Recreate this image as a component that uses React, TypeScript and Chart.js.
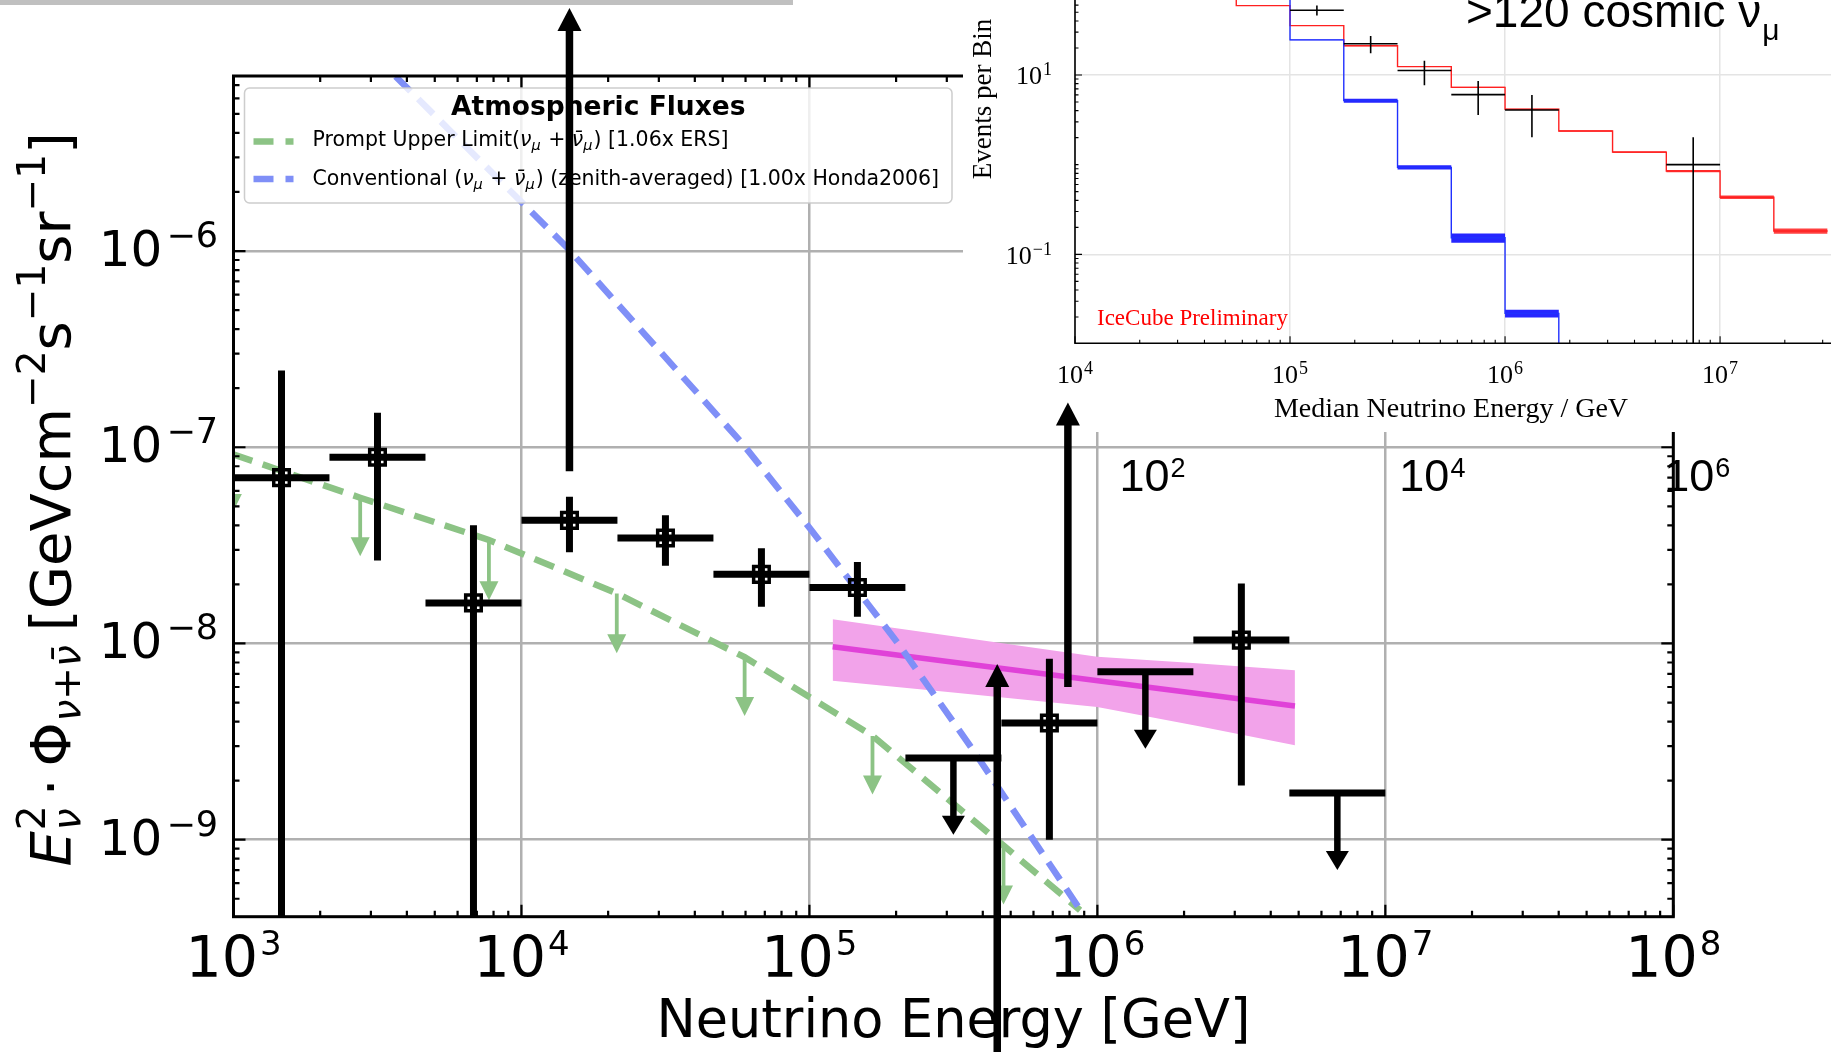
import React, { useEffect, useRef } from 'react';
import { Chart, registerables } from 'chart.js';

Chart.register(...registerables);

const W = 1831;
const H = 1052;

// ================= MAIN CHART DATA (E^2 flux vs neutrino energy) =================
const xTickValues = [1e3, 1e4, 1e5, 1e6, 1e7, 1e8];
const xTickExponents = ['3', '4', '5', '6', '7', '8'];
const yTickValues = [1e-9, 1e-8, 1e-7, 1e-6];
const yTickExponents = ['−9', '−8', '−7', '−6'];

// unfolded flux points (bin edges, centre, value, error-bar ends)
const binLowE = [1000, 2154, 4642, 10000, 21544, 46416, 100000, 464159, 2154435];
const binHighE = [2154, 4642, 10000, 21544, 46416, 100000, 215443, 1000000, 4641589];
const binCenterE = [1468, 3162, 6813, 14678, 31623, 68129, 146780, 681292, 3162278];
const fluxValue = [7.0e-8, 8.9e-8, 1.61e-8, 4.24e-8, 3.45e-8, 2.25e-8, 1.93e-8, 3.93e-9, 1.04e-8];
const fluxUpper = [2.46e-7, 1.5e-7, 4.0e-8, 5.6e-8, 4.5e-8, 3.06e-8, 2.6e-8, 8.35e-9, 2.02e-8];
const fluxLower = [1e-11, 2.65e-8, 1e-11, 2.92e-8, 2.49e-8, 1.54e-8, 1.37e-8, 1.0e-9, 1.89e-9];

// upper limits
const limitLowE = [215443, 1000000, 4641589];
const limitHighE = [464159, 2154435, 10000000];
const limitCenterE = [316228, 1467799, 6812921];
const limitValue = [2.61e-9, 7.18e-9, 1.73e-9];
const limitArrowTip = [1.06e-9, 2.91e-9, 7.0e-10];

// prompt upper limit curve (green) and its arrows
const promptE = [991, 2754, 7709, 21429, 59566, 165577, 472063, 870964];
const promptFlux = [9.23e-8, 5.53e-8, 3.37e-8, 1.8e-8, 8.51e-9, 3.38e-9, 9.33e-10, 4.37e-10];
const promptArrowE = [991, 2754, 7709, 21429, 59566, 165577, 472063];
const promptArrowTop = [9.23e-8, 5.53e-8, 3.37e-8, 1.8e-8, 8.51e-9, 3.38e-9, 9.33e-10];
const promptArrowTip = [4.62e-8, 2.78e-8, 1.66e-8, 8.91e-9, 4.27e-9, 1.7e-9, 4.68e-10];

// conventional atmospheric flux (blue)
const convE = [3656, 14421, 58345, 100000, 203236, 368978, 864968];
const convFlux = [7.76e-6, 1.04e-6, 1.05e-7, 3.89e-8, 1.0e-8, 2.88e-9, 4.47e-10];

// astrophysical fit (magenta) and its band
const fitE = [120400, 4853000];
const fitFlux = [9.62e-9, 4.8e-9];
const bandE = [120400, 315500, 999100, 2208000, 4853000];
const bandTop = [1.327e-8, 1.089e-8, 8.55e-9, 7.93e-9, 7.31e-9];
const bandBottom = [6.46e-9, 5.62e-9, 4.75e-9, 3.81e-9, 3.03e-9];

// big annotation arrows pasted on the figure
const annotArrowE = [14678, 790000, 449000];
const annotArrowBase = [7.55e-8, 6.0e-9, 5e-11];
const annotArrowTip = [1.73e-5, 1.69e-7, 7.85e-9];

// stray axis labels pasted below the inset
const strayLabelE = [1e6, 1e7, 1e8];
const strayLabelExp = ['2', '4', '6'];

// ================= INSET DATA (events per bin) =================
const insetXTicks = [1e4, 1e5, 1e6, 1e7];
const insetXExp = ['4', '5', '6', '7'];
const insetYTicks = [0.1, 10];
const insetYExp = ['−1', '1'];
const histEdges = [31623, 56234, 100000, 177828, 316228, 562341, 1000000, 1778279, 3162278, 5623413, 10000000, 17782794, 31622777];
const redValues = [80, 59.3, 35.5, 21.2, 12.4, 7.28, 4.14, 2.37, 1.38, 0.849, 0.433, 0.182];
const redRelErr = [0.01, 0.01, 0.012, 0.012, 0.012, 0.012, 0.015, 0.02, 0.025, 0.03, 0.045, 0.065];
const blueEdges = [56234, 100000, 177828, 316228, 562341, 1000000, 1778279, 3162278];
const blueValues = [85, 24.6, 5.17, 0.933, 0.153, 0.022, 0.003];
const blueRelErr = [0.01, 0.01, 0.05, 0.055, 0.12, 0.1, 0.1];
const dataCenterE = [133352, 237137, 421697, 749894, 1333521, 7498942];
const dataLowE = [100000, 177828, 316228, 562341, 1000000, 5623413];
const dataHighE = [177828, 316228, 562341, 1000000, 1778279, 10000000];
const dataEvents = [52.6, 22.3, 11.2, 6.03, 4.07, 1.0];
const dataUp = [59.3, 27.2, 14.4, 8.57, 5.98, 2.02];
const dataDown = [45.9, 17.5, 7.7, 3.58, 2.02, 0.001];

// ================= helpers =================
const GREEN = '#8cc385';
const BLUE = '#7f8ff7';
const MAGENTA = '#e042d8';
const BAND = '#f2a3ea';
const SANS = '"DejaVu Sans"';
const SERIF = '"Liberation Serif"';
const ARIAL = '"Liberation Sans"';
const DASH = [21, 11];

type Seg = { t: string; s: number; dy?: number; it?: boolean; b?: boolean; stack?: boolean; gap?: number };

function segFont(g: Seg, fam: string) {
  return `${g.it ? 'italic ' : ''}${g.b ? 'bold ' : ''}${g.s}px ${fam}`;
}

function drawRich(ctx: CanvasRenderingContext2D, segs: Seg[], x: number, y: number, align: string, fam: string, color: string, sx = 1) {
  ctx.save();
  ctx.fillStyle = color;
  ctx.textBaseline = 'alphabetic';
  ctx.textAlign = 'left';
  const adv: number[] = [];
  let total = 0;
  segs.forEach((g) => {
    ctx.font = segFont(g, fam);
    const w = ctx.measureText(g.t).width;
    const a = g.stack ? 0 : w + (g.gap || 0);
    adv.push(a);
    total += a;
  });
  let cx = align === 'left' ? 0 : align === 'center' ? -total / 2 : -total;
  ctx.translate(x, y);
  ctx.scale(sx, 1);
  segs.forEach((g, i) => {
    ctx.font = segFont(g, fam);
    ctx.fillText(g.t, cx, g.dy || 0);
    cx += adv[i];
  });
  ctx.restore();
}

function drawArrow(ctx: CanvasRenderingContext2D, x: number, yBase: number, yTip: number, lw: number, headW: number, headL: number, color: string) {
  const dir = yTip < yBase ? -1 : 1;
  ctx.save();
  ctx.strokeStyle = color;
  ctx.fillStyle = color;
  ctx.lineWidth = lw;
  ctx.lineCap = 'butt';
  ctx.beginPath();
  ctx.moveTo(x, yBase);
  ctx.lineTo(x, yTip - dir * headL * 0.8);
  ctx.stroke();
  ctx.beginPath();
  ctx.moveTo(x, yTip);
  ctx.lineTo(x - headW / 2, yTip - dir * headL);
  ctx.lineTo(x + headW / 2, yTip - dir * headL);
  ctx.closePath();
  ctx.fill();
  ctx.restore();
}

function logMinor(min: number, max: number) {
  const out: number[] = [];
  for (let p = Math.floor(Math.log10(min)); p <= Math.ceil(Math.log10(max)); p++) {
    for (let k = 2; k <= 9; k++) {
      const v = k * Math.pow(10, p);
      if (v > min && v < max) out.push(v);
    }
  }
  return out;
}

function drawTicks(ctx: CanvasRenderingContext2D, chart: any, xMajor: number[], yMajor: number[], sides: string, major: number, minor: number, lw: number, extraYMinor: number[] = []) {
  const a = chart.chartArea;
  const xs = chart.scales.x;
  const ys = chart.scales.y;
  ctx.save();
  ctx.strokeStyle = '#000';
  ctx.lineWidth = lw;
  ctx.beginPath();
  const tx = (v: number, len: number) => {
    const x = xs.getPixelForValue(v);
    if (sides.includes('b')) { ctx.moveTo(x, a.bottom); ctx.lineTo(x, a.bottom - len); }
    if (sides.includes('t')) { ctx.moveTo(x, a.top); ctx.lineTo(x, a.top + len); }
  };
  const ty = (v: number, len: number) => {
    const y = ys.getPixelForValue(v);
    if (sides.includes('l')) { ctx.moveTo(a.left, y); ctx.lineTo(a.left + len, y); }
    if (sides.includes('r')) { ctx.moveTo(a.right, y); ctx.lineTo(a.right - len, y); }
  };
  xMajor.forEach((v) => tx(v, major));
  logMinor(xs.min, xs.max).forEach((v) => tx(v, minor));
  yMajor.forEach((v) => ty(v, major));
  logMinor(ys.min, ys.max).concat(extraYMinor).forEach((v) => ty(v, minor));
  ctx.stroke();
  ctx.restore();
}

function clipArea(ctx: CanvasRenderingContext2D, a: any) {
  ctx.beginPath();
  ctx.rect(a.left, a.top, a.right - a.left, a.bottom - a.top);
  ctx.clip();
}

// ================= MAIN CHART PLUGIN =================
const MARKER_INDEX = 0;
const PROMPT_INDEX = 1;

const mainDecor = {
  id: 'mainDecor',
  beforeDatasetDraw(chart: any, args: any) {
    if (args.index !== MARKER_INDEX) return;
    const ctx: CanvasRenderingContext2D = chart.ctx;
    const xs = chart.scales.x;
    const ys = chart.scales.y;
    ctx.save();
    clipArea(ctx, chart.chartArea);
    ctx.strokeStyle = '#000';
    ctx.lineWidth = 7;
    ctx.lineCap = 'butt';
    binCenterE.forEach((e, i) => {
      const x = xs.getPixelForValue(e);
      const y = ys.getPixelForValue(fluxValue[i]);
      ctx.beginPath();
      ctx.moveTo(xs.getPixelForValue(binLowE[i]), y);
      ctx.lineTo(xs.getPixelForValue(binHighE[i]), y);
      ctx.moveTo(x, ys.getPixelForValue(fluxUpper[i]));
      ctx.lineTo(x, ys.getPixelForValue(fluxLower[i]));
      ctx.stroke();
    });
    limitCenterE.forEach((e, i) => {
      const x = xs.getPixelForValue(e);
      const y = ys.getPixelForValue(limitValue[i]);
      ctx.beginPath();
      ctx.moveTo(xs.getPixelForValue(limitLowE[i]), y);
      ctx.lineTo(xs.getPixelForValue(limitHighE[i]), y);
      ctx.stroke();
      drawArrow(ctx, x, y, ys.getPixelForValue(limitArrowTip[i]), 6.5, 23, 19, '#000');
    });
    ctx.restore();
  },
  afterDatasetDraw(chart: any, args: any) {
    if (args.index !== PROMPT_INDEX) return;
    const ctx: CanvasRenderingContext2D = chart.ctx;
    const xs = chart.scales.x;
    const ys = chart.scales.y;
    ctx.save();
    clipArea(ctx, chart.chartArea);
    promptArrowE.forEach((e, i) => {
      drawArrow(ctx, xs.getPixelForValue(e), ys.getPixelForValue(promptArrowTop[i]), ys.getPixelForValue(promptArrowTip[i]), 3.8, 19, 19, GREEN);
    });
    ctx.restore();
  },
  afterDatasetsDraw(chart: any) {
    const ctx: CanvasRenderingContext2D = chart.ctx;
    const a = chart.chartArea;
    // frame
    ctx.save();
    ctx.strokeStyle = '#000';
    ctx.lineWidth = 3;
    ctx.strokeRect(a.left, a.top, a.right - a.left, a.bottom - a.top);
    ctx.restore();
    drawTicks(ctx, chart, xTickValues, yTickValues, 'lrtb', 12, 6, 2.2);
    // legend
    const lx = a.left + 11;
    const ly = a.top + 12;
    const lw = 707.5;
    const lh = 115;
    ctx.save();
    ctx.beginPath();
    (ctx as any).roundRect(lx, ly, lw, lh, 5);
    ctx.fillStyle = 'rgba(255,255,255,0.8)';
    ctx.fill();
    ctx.strokeStyle = 'rgba(200,200,200,0.9)';
    ctx.lineWidth = 1.5;
    ctx.stroke();
    ctx.restore();
    drawRich(ctx, [{ t: 'Atmospheric Fluxes', s: 26.5, b: true }], lx + lw / 2, ly + 26.5, 'center', SANS, '#000');
    const handle = (y: number, color: string) => {
      ctx.save();
      ctx.strokeStyle = color;
      ctx.lineWidth = 6.5;
      ctx.setLineDash([20, 12]);
      ctx.beginPath();
      ctx.moveTo(lx + 9, y);
      ctx.lineTo(lx + 49, y);
      ctx.stroke();
      ctx.restore();
    };
    handle(ly + 53.4, GREEN);
    handle(ly + 91, BLUE);
    const nuPair: Seg[] = [
      { t: 'ν', s: 20.5, it: true },
      { t: 'μ', s: 14.5, it: true, dy: 4, gap: 1 },
      { t: ' + ', s: 20.5 },
      { t: 'ν̄', s: 20.5, it: true },
      { t: 'μ', s: 14.5, it: true, dy: 4, gap: 1 },
    ];
    drawRich(ctx, [{ t: 'Prompt Upper Limit(', s: 20.5 }, ...nuPair, { t: ') [1.06x ERS]', s: 20.5 }], lx + 68, ly + 58.4, 'left', SANS, '#000');
    drawRich(ctx, [{ t: 'Conventional (', s: 20.5 }, ...nuPair, { t: ') (zenith-averaged) [1.00x Honda2006]', s: 20.5 }], lx + 68, ly + 96.7, 'left', SANS, '#000');
  },
  afterDraw(chart: any) {
    const ctx: CanvasRenderingContext2D = chart.ctx;
    const a = chart.chartArea;
    const xs = chart.scales.x;
    const ys = chart.scales.y;
    xTickValues.forEach((v, i) => {
      drawRich(ctx, [{ t: '10', s: 57, gap: 2 }, { t: xTickExponents[i], s: 34, dy: -22 }], xs.getPixelForValue(v), a.bottom + 60.5, 'center', SANS, '#000');
    });
    yTickValues.forEach((v, i) => {
      drawRich(ctx, [{ t: '10', s: 50, gap: 4 }, { t: yTickExponents[i], s: 35, dy: -19 }], a.left - 15.5, ys.getPixelForValue(v) + 15, 'right', SANS, '#000');
    });
    drawRich(ctx, [{ t: 'Neutrino Energy [GeV]', s: 52.5 }], (a.left + a.right) / 2, a.bottom + 120, 'center', SANS, '#000');
    ctx.save();
    ctx.translate(70, (a.top + a.bottom) / 2 + 3);
    ctx.rotate(-Math.PI / 2);
    const yTitle: Seg[] = [
      { t: 'E', s: 56, it: true, gap: 1 },
      { t: '2', s: 39, dy: -25, stack: true },
      { t: 'ν', s: 39, it: true, dy: 10, gap: 12 },
      { t: '·', s: 56, gap: 12 },
      { t: 'Φ', s: 56, gap: 1 },
      { t: 'ν', s: 39, it: true, dy: 10 },
      { t: '+', s: 39, dy: 10 },
      { t: 'ν̄', s: 39, it: true, dy: 10, gap: 14 },
      { t: '[GeVcm', s: 56 },
      { t: '−2', s: 39, dy: -25 },
      { t: 's', s: 56 },
      { t: '−1', s: 39, dy: -25 },
      { t: 'sr', s: 56 },
      { t: '−1', s: 39, dy: -25 },
      { t: ']', s: 56 },
    ];
    drawRich(ctx, yTitle, 0, 0, 'center', SANS, '#000');
    ctx.restore();
    // stray labels pasted below the inset
    const strayDx = [22, 14, -9];
    strayLabelE.forEach((e, i) => {
      drawRich(ctx, [{ t: '10', s: 45, gap: 1 }, { t: strayLabelExp[i], s: 27, dy: -13.5 }], xs.getPixelForValue(e) + strayDx[i], ys.getPixelForValue(1e-7) + 43.5, 'left', ARIAL, '#000');
    });
  },
};

function mainConfig(): any {
  return {
    type: 'scatter',
    data: {
      datasets: [
        {
          label: 'Unfolded flux',
          data: binCenterE.map((e, i) => ({ x: e, y: fluxValue[i] })),
          pointStyle: 'rect',
          pointRadius: 11,
          borderColor: '#000',
          borderWidth: 3.5,
          backgroundColor: 'rgba(0,0,0,0)',
          order: 0,
        },
        {
          type: 'line',
          label: 'Prompt Upper Limit',
          data: promptE.map((e, i) => ({ x: e, y: promptFlux[i] })),
          borderColor: GREEN,
          borderWidth: 6.5,
          borderDash: DASH,
          pointRadius: 0,
          fill: false,
          order: 4,
        },
        {
          type: 'line',
          label: 'Conventional',
          data: convE.map((e, i) => ({ x: e, y: convFlux[i] })),
          borderColor: BLUE,
          borderWidth: 6.5,
          borderDash: DASH,
          pointRadius: 0,
          fill: false,
          order: 3,
        },
        {
          type: 'line',
          label: 'band top',
          data: bandE.map((e, i) => ({ x: e, y: bandTop[i] })),
          borderWidth: 0,
          borderColor: 'rgba(0,0,0,0)',
          pointRadius: 0,
          fill: false,
          order: 7,
        },
        {
          type: 'line',
          label: 'band bottom',
          data: bandE.map((e, i) => ({ x: e, y: bandBottom[i] })),
          borderWidth: 0,
          borderColor: 'rgba(0,0,0,0)',
          backgroundColor: BAND,
          pointRadius: 0,
          fill: '-1',
          order: 7,
        },
        {
          type: 'line',
          label: 'Astrophysical fit',
          data: fitE.map((e, i) => ({ x: e, y: fitFlux[i] })),
          borderColor: MAGENTA,
          borderWidth: 5.5,
          pointRadius: 0,
          fill: false,
          order: 6,
        },
      ],
    },
    options: {
      animation: false,
      responsive: false,
      devicePixelRatio: 1,
      events: [],
      layout: { padding: { left: 233.5, right: 157.7, top: 76, bottom: 135.3 } },
      plugins: { legend: { display: false }, tooltip: { enabled: false } },
      scales: {
        x: {
          type: 'logarithmic',
          min: 1e3,
          max: 1e8,
          afterBuildTicks: (s: any) => { s.ticks = xTickValues.map((v) => ({ value: v })); },
          afterFit: (s: any) => { s.height = 0; },
          ticks: { display: false },
          grid: { color: '#b0b0b0', lineWidth: 2.5, drawTicks: false },
          border: { display: false },
        },
        y: {
          type: 'logarithmic',
          min: 4.05e-10,
          max: 7.8e-6,
          afterBuildTicks: (s: any) => { s.ticks = yTickValues.map((v) => ({ value: v })); },
          afterFit: (s: any) => { s.width = 0; },
          ticks: { display: false },
          grid: { color: '#b0b0b0', lineWidth: 2.5, drawTicks: false },
          border: { display: false },
        },
      },
    },
    plugins: [mainDecor],
  };
}

// ================= INSET =================
function histPoints(edges: number[], values: number[]) {
  const pts = values.map((v, i) => ({ x: edges[i], y: v }));
  pts.push({ x: edges[values.length], y: values[values.length - 1] });
  return pts;
}
function histBand(edges: number[], values: number[], rel: number[], sign: number) {
  const pts = values.map((v, i) => ({ x: edges[i], y: v * (1 + sign * rel[i]) }));
  const n = values.length - 1;
  pts.push({ x: edges[values.length], y: values[n] * (1 + sign * rel[n]) });
  return pts;
}

const insetDecor = {
  id: 'insetDecor',
  beforeDraw(chart: any) {
    const ctx: CanvasRenderingContext2D = chart.ctx;
    ctx.save();
    ctx.fillStyle = '#ffffff';
    ctx.fillRect(0, 0, chart.width, chart.height);
    ctx.restore();
  },
  afterDatasetsDraw(chart: any) {
    const ctx: CanvasRenderingContext2D = chart.ctx;
    const a = chart.chartArea;
    const xs = chart.scales.x;
    const ys = chart.scales.y;
    ctx.save();
    clipArea(ctx, a);
    ctx.strokeStyle = '#000';
    ctx.lineWidth = 1.6;
    dataCenterE.forEach((e, i) => {
      const x = xs.getPixelForValue(e);
      const y = ys.getPixelForValue(dataEvents[i]);
      ctx.beginPath();
      ctx.moveTo(xs.getPixelForValue(dataLowE[i]), y);
      ctx.lineTo(xs.getPixelForValue(dataHighE[i]), y);
      ctx.moveTo(x, ys.getPixelForValue(dataUp[i]));
      ctx.lineTo(x, ys.getPixelForValue(dataDown[i]));
      ctx.stroke();
    });
    ctx.restore();
    // spines
    ctx.save();
    ctx.strokeStyle = '#000';
    ctx.lineWidth = 1.6;
    ctx.beginPath();
    ctx.moveTo(a.left, a.top);
    ctx.lineTo(a.left, a.bottom);
    ctx.lineTo(a.right, a.bottom);
    ctx.stroke();
    ctx.restore();
    drawTicks(ctx, chart, insetXTicks, insetYTicks, 'lb', 7, 3.5, 1.1, [1]);
  },
  afterDraw(chart: any) {
    const ctx: CanvasRenderingContext2D = chart.ctx;
    const a = chart.chartArea;
    const xs = chart.scales.x;
    const ys = chart.scales.y;
    insetXTicks.forEach((v, i) => {
      drawRich(ctx, [{ t: '10', s: 26, gap: 1 }, { t: insetXExp[i], s: 18, dy: -9 }], xs.getPixelForValue(v), a.bottom + 40, 'center', SERIF, '#000');
    });
    insetYTicks.forEach((v, i) => {
      drawRich(ctx, [{ t: '10', s: 26, gap: 1 }, { t: insetYExp[i], s: 18, dy: -9 }], a.left - 23, ys.getPixelForValue(v) + 9.5, 'right', SERIF, '#000');
    });
    drawRich(ctx, [{ t: 'Median Neutrino Energy / GeV', s: 28 }], 488, 417, 'center', SERIF, '#000');
    ctx.save();
    ctx.translate(28, 99);
    ctx.rotate(-Math.PI / 2);
    drawRich(ctx, [{ t: 'Events per Bin', s: 27 }], 0, 0, 'center', SERIF, '#000');
    ctx.restore();
    drawRich(ctx, [{ t: 'IceCube Preliminary', s: 23 }], 134, 325, 'left', SERIF, '#ff0000');
    drawRich(ctx, [{ t: '>120 cosmic ν', s: 46, gap: 1 }, { t: 'μ', s: 30, dy: 13 }], 503, 27, 'left', ARIAL, '#000');
  },
};

function insetConfig(): any {
  const line = (data: any, color: string, width: number, order: number, fill: any = false, bg = 'rgba(0,0,0,0)') => ({
    type: 'line',
    data,
    stepped: true,
    borderColor: color,
    borderWidth: width,
    backgroundColor: bg,
    pointRadius: 0,
    fill,
    order,
  });
  return {
    type: 'scatter',
    data: {
      datasets: [
        line(histBand(histEdges, redValues, redRelErr, -1), 'rgba(0,0,0,0)', 0, 6),
        line(histBand(histEdges, redValues, redRelErr, 1), 'rgba(0,0,0,0)', 0, 6, '-1', 'rgba(255,0,0,0.75)'),
        line(histPoints(histEdges, redValues), '#ff2020', 1.4, 5),
        line(histBand(blueEdges, blueValues, blueRelErr, -1), 'rgba(0,0,0,0)', 0, 4),
        line(histBand(blueEdges, blueValues, blueRelErr, 1), 'rgba(0,0,0,0)', 0, 4, '-1', 'rgba(0,0,255,0.85)'),
        line(histPoints(blueEdges, blueValues), '#2030ff', 1.4, 3),
        {
          label: 'Data',
          data: dataCenterE.map((e, i) => ({ x: e, y: dataEvents[i] })),
          pointRadius: 0,
          order: 0,
        },
      ],
    },
    options: {
      animation: false,
      responsive: false,
      devicePixelRatio: 1,
      events: [],
      layout: { padding: { left: 112, right: 0, top: 0, bottom: 88.7 } },
      plugins: { legend: { display: false }, tooltip: { enabled: false } },
      scales: {
        x: {
          type: 'logarithmic',
          min: 1e4,
          max: 3.28e7,
          afterBuildTicks: (s: any) => { s.ticks = insetXTicks.map((v) => ({ value: v })); },
          afterFit: (s: any) => { s.height = 0; },
          ticks: { display: false },
          grid: { color: '#e4e4e4', lineWidth: 1.5, drawTicks: false },
          border: { display: false },
        },
        y: {
          type: 'logarithmic',
          min: 0.0102,
          max: 68.5,
          afterBuildTicks: (s: any) => { s.ticks = insetYTicks.map((v) => ({ value: v })); },
          afterFit: (s: any) => { s.width = 0; },
          ticks: { display: false },
          grid: { color: '#e4e4e4', lineWidth: 1.5, drawTicks: false },
          border: { display: false },
        },
      },
    },
    plugins: [insetDecor],
  };
}

// ================= OVERLAY (annotation arrows, top bar) =================
function drawOverlay(ctx: CanvasRenderingContext2D, chart: any) {
  ctx.clearRect(0, 0, W, H);
  ctx.save();
  ctx.fillStyle = '#c0c0c0';
  ctx.fillRect(0, 0, 793, 5);
  ctx.restore();
  const xs = chart.scales.x;
  const ys = chart.scales.y;
  annotArrowE.forEach((e, i) => {
    drawArrow(ctx, xs.getPixelForValue(e), ys.getPixelForValue(annotArrowBase[i]), ys.getPixelForValue(annotArrowTip[i]), 7.5, 24, 23, '#000');
  });
}

export default function App() {
  const mainRef = useRef<HTMLCanvasElement>(null);
  const insetRef = useRef<HTMLCanvasElement>(null);
  const overRef = useRef<HTMLCanvasElement>(null);

  useEffect(() => {
    document.body.style.margin = '0';
    const main = new Chart(mainRef.current as HTMLCanvasElement, mainConfig());
    const inset = new Chart(insetRef.current as HTMLCanvasElement, insetConfig());
    const octx = (overRef.current as HTMLCanvasElement).getContext('2d') as CanvasRenderingContext2D;
    drawOverlay(octx, main);
    return () => {
      main.destroy();
      inset.destroy();
      octx.clearRect(0, 0, W, H);
    };
  }, []);

  return (
    <div style={{ position: 'fixed', left: 0, top: 0, width: W, height: H, background: '#ffffff', overflow: 'hidden' }}>
      <canvas ref={mainRef} width={W} height={H} style={{ position: 'absolute', left: 0, top: 0 }} />
      <canvas ref={insetRef} width={868} height={432} style={{ position: 'absolute', left: 963, top: 0 }} />
      <canvas ref={overRef} width={W} height={H} style={{ position: 'absolute', left: 0, top: 0, pointerEvents: 'none' }} />
    </div>
  );
}
